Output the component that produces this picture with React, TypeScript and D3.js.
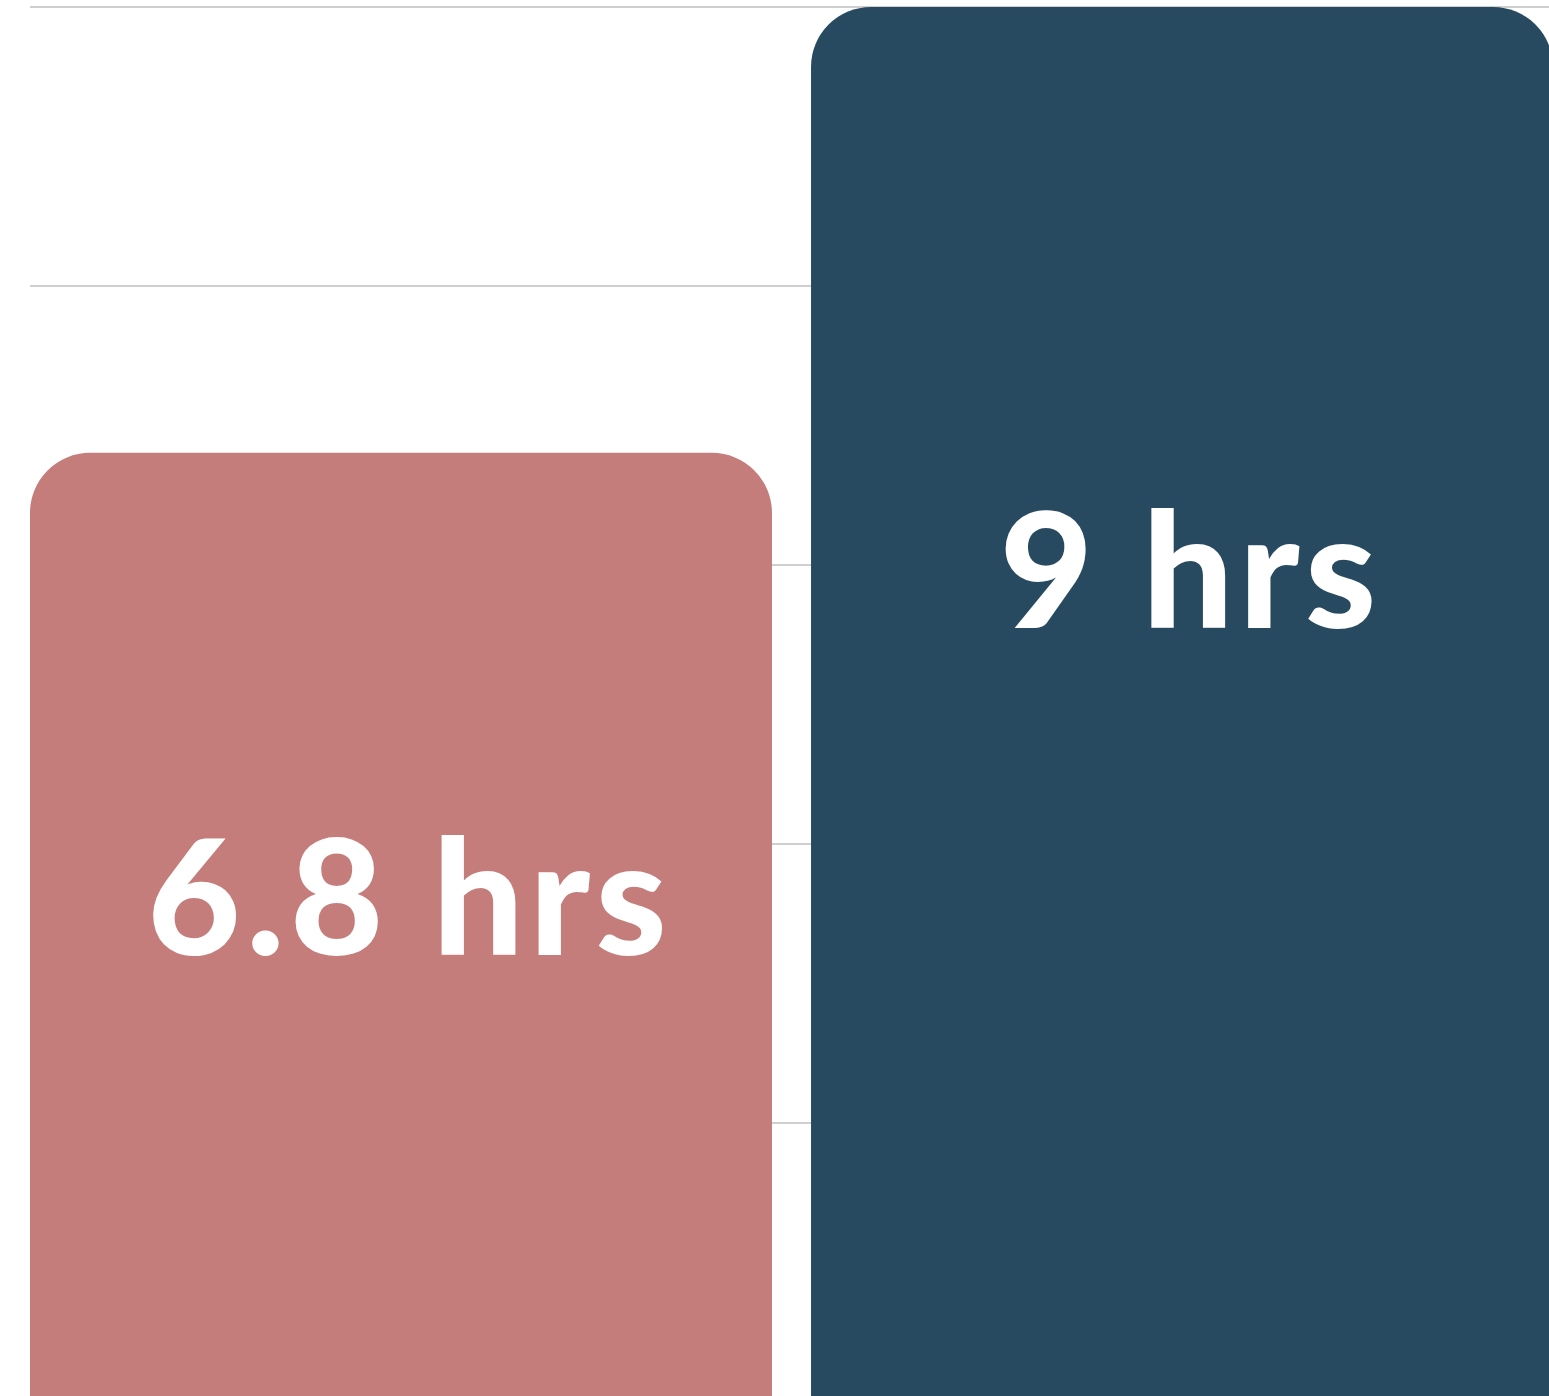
import React from "react";
import * as d3 from "d3";

const categories = ["A", "B"];
const values = [6.8, 9];
const labels = ["6.8 hrs", "9 hrs"];
const colors = ["#C47D7B", "#284A60"];
const gridSteps = [0, 1, 2, 3, 4, 5];

const W = 1549;
const H = 1396;

function roundedTopBar(x: number, y: number, w: number, h: number, r: number) {
  const p = d3.path();
  p.moveTo(x, y + h);
  p.lineTo(x, y + r);
  p.arcTo(x, y, x + r, y, r);
  p.lineTo(x + w - r, y);
  p.arcTo(x + w, y, x + w, y + r, r);
  p.lineTo(x + w, y + h);
  p.closePath();
  return p.toString();
}

export default function App() {
  const x = d3.scaleBand<string>().domain(categories).range([30, 1553]).paddingInner(0.05).paddingOuter(0);
  const y = d3.scaleLinear().domain([0, 9]).range([1831, 7]);
  const grid = d3.scaleLinear().domain([0, 5]).range([7, 7 + 5 * 279]);
  const labelAnchor = 2333;
  const spacing = 5.5;
  return (
    <svg
      width={W}
      height={H}
      style={{ position: "absolute", left: 0, top: 0, display: "block" }}
    >
      <rect width={W} height={H} fill="#fff" />
      {gridSteps.map((g) => (
        <line key={g} x1={30} x2={W} y1={grid(g)} y2={grid(g)} stroke="#cfcfcf" strokeWidth={2} />
      ))}
      {categories.map((c, i) => {
        const bx = x(c)!;
        const bw = x.bandwidth();
        const top = y(values[i]);
        const bottom = y(0);
        const ly = top + (labelAnchor - top) * 0.267;
        return (
          <g key={c}>
            <path d={roundedTopBar(bx, top, bw, bottom - top, 60)} fill={colors[i]} />
            <text
              x={bx + bw / 2 + spacing / 2 + 6}
              y={ly}
              textAnchor="middle"
              fill="#fff"
              fontFamily="Lato, 'Open Sans', sans-serif"
              fontWeight={900}
              fontSize={161}
              letterSpacing={spacing}
            >
              {labels[i]}
            </text>
          </g>
        );
      })}
    </svg>
  );
}
